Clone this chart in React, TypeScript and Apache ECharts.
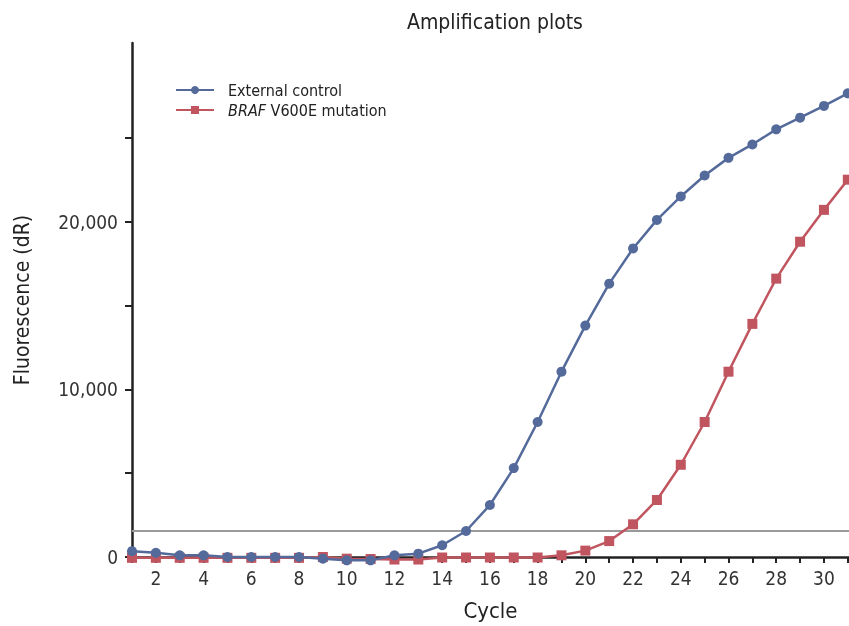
import React, { useEffect, useRef } from "react";
import * as echarts from "echarts";

const cycles = [1,2,3,4,5,6,7,8,9,10,11,12,13,14,15,16,17,18,19,20,21,22,23,24,25,26,27,28,29,30,31];
const externalControl = [350,250,100,100,0,0,0,0,-100,-200,-200,100,200,700,1550,3100,5300,8050,11050,13800,16300,18400,20100,21500,22750,23800,24600,25500,26200,26900,27650];
const brafMutation = [-50,-50,-50,-50,-50,-50,-50,-50,0,-100,-120,-150,-150,-30,-30,-30,-30,-30,100,380,950,1950,3400,5500,8050,11050,13900,16600,18800,20700,22500];
const xTicks = [1,2,3,4,5,6,7,8,9,10,11,12,13,14,15,16,17,18,19,20,21,22,23,24,25,26,27,28,29,30,31];
const xLabels = [2,4,6,8,10,12,14,16,18,20,22,24,26,28,30];
const yTicks = [0,5000,10000,15000,20000,25000];
const yLabels = [0,10000,20000];
const threshold = 1550;

const FONT = "'Liberation Sans Narrow', 'DejaVu Sans Condensed', 'Roboto', sans-serif";
const BLUE = "#546a9b";
const RED = "#c0555f";

export default function App() {
  const ref = useRef<HTMLDivElement>(null);
  useEffect(() => {
    const chart = echarts.init(ref.current!, null, { renderer: "svg" });
    chart.setOption({
      animation: false,
      title: {
        text: "Amplification plots",
        left: 490,
        textAlign: "center",
        top: 6,
        textStyle: { fontFamily: FONT, fontSize: 21, fontWeight: "normal", color: "#222" },
      },
      legend: {
        orient: "vertical",
        left: 170,
        top: 77,
        itemWidth: 38,
        itemHeight: 10,
        itemGap: 4,
        data: ["External control", "BRAF V600E mutation"],
        formatter: (name: string) =>
          name.startsWith("BRAF") ? "{i|BRAF}{n|" + name.slice(4) + "}" : "{n|" + name + "}",
        textStyle: {
          padding: [0, 0, 0, 9],
          rich: {
            i: { fontFamily: FONT, fontSize: 16, fontStyle: "italic", color: "#222" },
            n: { fontFamily: FONT, fontSize: 16, color: "#222" },
          },
        },
      },
      grid: { left: 132, right: 0, top: 43, bottom: 69, containLabel: false },
      xAxis: {
        type: "value",
        min: 1,
        max: 31.05,
        interval: 1,
        name: "Cycle",
        nameLocation: "middle",
        nameGap: 42,
        nameTextStyle: { fontFamily: FONT, fontSize: 22, color: "#222" },
        axisLine: { lineStyle: { color: "#222", width: 2.5 } },
        axisTick: { show: true, length: 6, lineStyle: { color: "#222", width: 2 }, customValues: xTicks },
        axisLabel: {
          customValues: xLabels,
          fontFamily: FONT,
          fontSize: 19,
          color: "#333",
          margin: 11,
        },
        splitLine: { show: false },
      },
      yAxis: {
        type: "value",
        min: 0,
        max: 30650,
        name: "Fluorescence (dR)",
        nameLocation: "middle",
        nameGap: 100,
        nameTextStyle: { fontFamily: FONT, fontSize: 21, color: "#222" },
        axisLine: { show: true, lineStyle: { color: "#222", width: 2.5 } },
        axisTick: { show: true, length: 7, lineStyle: { color: "#222", width: 2 }, customValues: yTicks },
        axisLabel: {
          customValues: yLabels,
          fontFamily: FONT,
          fontSize: 19,
          color: "#333",
          margin: 14,
          formatter: (v: number) => v.toLocaleString("en-US"),
        },
        splitLine: { show: false },
      },
      series: [
        {
          name: "BRAF V600E mutation",
          type: "line",
          clip: false,
          data: cycles.map((c, i) => [c, brafMutation[i]]),
          symbol: "rect",
          symbolSize: 10,
          lineStyle: { color: RED, width: 2.5 },
          itemStyle: { color: RED },
          z: 3,
          markLine: {
            silent: true,
            symbol: ["none", "none"],
            label: { show: false },
            lineStyle: { color: "#9a9a9a", width: 2, type: "solid" },
            data: [{ yAxis: threshold }],
            z: 1,
          },
        },
        {
          name: "External control",
          type: "line",
          clip: false,
          data: cycles.map((c, i) => [c, externalControl[i]]),
          symbol: "circle",
          symbolSize: 10,
          lineStyle: { color: BLUE, width: 2.5 },
          itemStyle: { color: BLUE },
          z: 4,
        },
      ],
    });
    return () => chart.dispose();
  }, []);
  return <div ref={ref} style={{ position: "fixed", left: 0, top: 0, width: 849, height: 626 }} />;
}
